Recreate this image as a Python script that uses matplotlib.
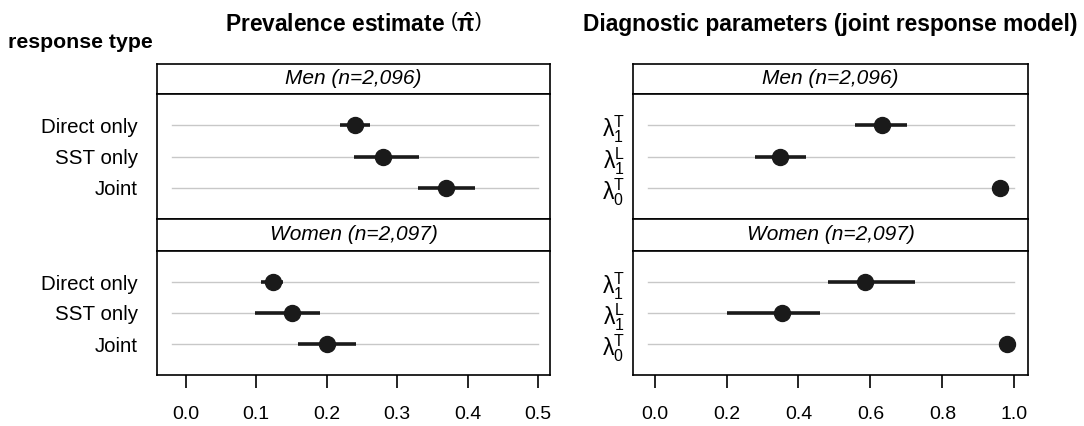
import numpy as np
import matplotlib.pyplot as plt

plt.rcParams['font.family'] = ['Liberation Sans', 'DejaVu Sans']
plt.rcParams['mathtext.fontset'] = 'custom'
plt.rcParams['mathtext.rm'] = 'Liberation Sans'
plt.rcParams['mathtext.it'] = 'Liberation Sans:italic'
plt.rcParams['mathtext.bf'] = 'Liberation Sans'
plt.rcParams['mathtext.default'] = 'regular'

groups = ['Men (n=2,096)', 'Women (n=2,097)']
resp_types = ['Direct only', 'SST only', 'Joint']
params = [r'$\lambda_1^T$', r'$\lambda_1^L$', r'$\lambda_0^T$']

# prevalence estimates (men, women)
prev_est = [[0.240, 0.280, 0.369], [0.123, 0.150, 0.200]]
prev_lo = [[0.219, 0.239, 0.329], [0.107, 0.098, 0.159]]
prev_hi = [[0.261, 0.331, 0.411], [0.138, 0.191, 0.242]]

# diagnostic parameters (men, women)
diag_est = [[0.631, 0.350, 0.960], [0.584, 0.353, 0.979]]
diag_lo = [[0.558, 0.278, 0.955], [0.481, 0.202, 0.975]]
diag_hi = [[0.702, 0.422, 0.965], [0.724, 0.461, 0.983]]

prev_ticks = [0.0, 0.1, 0.2, 0.3, 0.4, 0.5]
diag_ticks = [0.0, 0.2, 0.4, 0.6, 0.8, 1.0]

W, H = 1084, 426
fig = plt.figure(figsize=(W / 100, H / 100), dpi=100)


def fr(x0, y0, x1, y1):
    # pixel box -> figure fraction
    return [x0 / W, 1 - y1 / H, (x1 - x0) / W, (y1 - y0) / H]


def draw_col(x0, x1, labels, est, lo, hi, ticks, xlim, lab_pad, lab_size, title):
    rows = [(63.5, 94, 219), (219, 251, 375)]
    for g, (ht, pt, pb) in enumerate(rows):
        hax = fig.add_axes(fr(x0, ht, x1, pt))
        hax.set_xticks([]), hax.set_yticks([])
        for s in hax.spines.values():
            s.set_linewidth(1.2)
        hax.text(0.5, 0.5, groups[g], ha='center', va='center',
                 style='italic', fontsize=15, transform=hax.transAxes)

        ax = fig.add_axes(fr(x0, pt, x1, pb))
        for s in ax.spines.values():
            s.set_linewidth(1.2)
        y = np.arange(1, 4)
        for yi in y:
            ax.axhline(yi, xmin=0.037, xmax=(ticks[-1] - xlim[0]) / (xlim[1] - xlim[0]),
                       color='#c8c8c8', lw=1, zorder=1)
        ax.hlines(y, lo[g], hi[g], color='#1a1a1a', lw=2.6, zorder=2)
        ax.plot(est[g], y, 'o', color='#1a1a1a', ms=11.5, zorder=3)
        ax.set_xlim(xlim)
        ax.set_ylim(4, 0)
        ax.set_yticks(y)
        ax.set_yticklabels(labels, fontsize=lab_size)
        ax.tick_params(axis='y', length=0, pad=lab_pad)
        if g == 0:
            ax.set_xticks([])
        else:
            ax.set_xticks(ticks)
            ax.set_xticklabels(['%.1f' % t for t in ticks], fontsize=14)
            ax.tick_params(axis='x', length=9.5, width=1.2, pad=13)
    fig.text((x0 + x1) / 2 / W, 1 - 25 / H, title, ha='center', va='center',
             fontsize=16.4, fontweight='bold')


draw_col(157, 550, resp_types, prev_est, prev_lo, prev_hi, prev_ticks,
         (-0.041, 0.517), 14, 14.8, r'Prevalence estimate $\left(\hat{\pi}\right)$')
draw_col(633, 1028, params, diag_est, diag_lo, diag_hi, diag_ticks,
         (-0.060, 1.038), 6, 16.5, 'Diagnostic parameters (joint response model)')

fig.text(8 / W, 1 - 43 / H, 'response type', ha='left', va='center',
         fontsize=15.3, fontweight='bold')

fig.savefig('out.png', dpi=100)
